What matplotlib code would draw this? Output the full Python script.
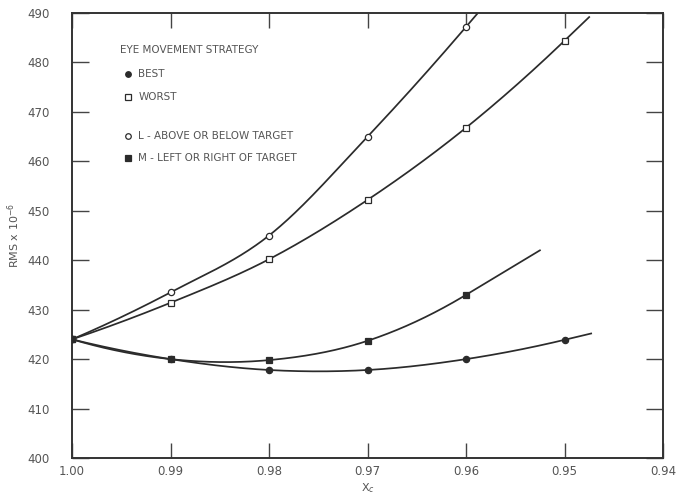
import matplotlib
matplotlib.use('Agg')
import matplotlib.pyplot as plt
import numpy as np

plt.rcParams['font.family'] = ['Liberation Sans Narrow', 'DejaVu Sans']

# значения
x_l_worst = [1.00, 0.99, 0.98, 0.97, 0.96]
rms_l_worst = [424.0, 433.5, 445.0, 465.0, 487.2]
x_m_worst = [1.00, 0.99, 0.98, 0.97, 0.96, 0.95]
rms_m_worst = [424.0, 431.4, 440.2, 452.2, 466.8, 484.4]
x_m_best = [1.00, 0.99, 0.98, 0.97, 0.96]
rms_m_best = [424.0, 420.0, 419.8, 423.7, 433.0]
x_l_best = [1.00, 0.99, 0.98, 0.97, 0.96, 0.95]
rms_l_best = [424.0, 420.0, 417.8, 417.8, 420.0, 423.9]

# где кончаются кривые (по X)
curve_end = {'l_worst': 0.958, 'm_worst': 0.9475, 'm_best': 0.9525, 'l_best': 0.9473}

x_ticks = [1.00, 0.99, 0.98, 0.97, 0.96, 0.95, 0.94]
x_tick_labels = ['1.00', '0.99', '0.98', '0.97', '0.96', '0.95', '0.94']
y_ticks = [400, 410, 420, 430, 440, 450, 460, 470, 480, 490]

legend_title = 'EYE MOVEMENT STRATEGY'
legend_rows = [
    ('o', 'k', 'BEST'),
    ('s', 'none', 'WORST'),
    ('o', 'none', 'L - ABOVE OR BELOW TARGET'),
    ('s', 'k', 'M - LEFT OR RIGHT OF TARGET'),
]

line_color = '#2b2b2b'
text_color = '#555555'


def smooth_curve(xs, ys, end, n=400):
    # кривая Катмулла-Рома через точки (шаг по X равномерный)
    y = np.asarray(ys, float)
    k = len(y)
    step = xs[0] - xs[1]
    m = np.zeros(k)
    m[1:-1] = (y[2:] - y[:-2]) / 2
    m[0] = (-3 * y[0] + 4 * y[1] - y[2]) / 2
    m[-1] = (3 * y[-1] - 4 * y[-2] + y[-3]) / 2
    u = np.linspace(0, (xs[0] - end) / step, n)
    yy = np.empty_like(u)
    for j, uu in enumerate(u):
        i = min(int(uu), k - 2)
        t = uu - i
        if t > 1:
            # продолжение за последней точкой по касательной
            yy[j] = y[-1] + m[-1] * (uu - (k - 1))
            continue
        h00 = 2 * t ** 3 - 3 * t ** 2 + 1
        h10 = t ** 3 - 2 * t ** 2 + t
        h01 = -2 * t ** 3 + 3 * t ** 2
        h11 = t ** 3 - t ** 2
        yy[j] = h00 * y[i] + h10 * m[i] + h01 * y[i + 1] + h11 * m[i + 1]
    return xs[0] - u * step, yy


fig = plt.figure(figsize=(6.77, 4.98), dpi=100)
ax = fig.add_axes([0.1064, 0.0803, 0.8730, 0.8936])


def draw_series(xs, ys, end, marker, filled):
    xx, yy = smooth_curve(xs, ys, end)
    ax.plot(xx, yy, color=line_color, lw=1.25, zorder=2)
    ax.plot(xs, ys, linestyle='none', marker=marker, markersize=4.5,
            markerfacecolor=line_color if filled else 'white',
            markeredgecolor=line_color, markeredgewidth=0.9, zorder=3)


draw_series(x_l_worst, rms_l_worst, curve_end['l_worst'], 'o', False)
draw_series(x_m_worst, rms_m_worst, curve_end['m_worst'], 's', False)
draw_series(x_m_best, rms_m_best, curve_end['m_best'], 's', True)
draw_series(x_l_best, rms_l_best, curve_end['l_best'], 'o', True)

ax.set_xlim(1.00, 0.94)
ax.set_ylim(400, 490)
ax.set_xticks(x_ticks)
ax.set_xticklabels(x_tick_labels)
ax.set_yticks(y_ticks)

for s in ax.spines.values():
    s.set_linewidth(1.4)
    s.set_color('#333333')

ax.tick_params(axis='x', direction='in', length=11, width=1, top=True,
               labelsize=8.5, labelcolor=text_color, pad=5, color='#444444')
ax.tick_params(axis='y', direction='in', length=12, width=1, right=True,
               labelsize=8.5, labelcolor=text_color, pad=16, color='#444444')

ax.set_ylabel('RMS x 10$^{-6}$', fontsize=8, color=text_color)
ax.yaxis.set_label_coords(-0.085, 0.5)
ax.set_xlabel('X$_c$', fontsize=8, color=text_color, labelpad=2)

# легенда вручную
ax.text(0.081, 0.917, legend_title, transform=ax.transAxes, fontsize=7.5,
        color=text_color, va='center')
legend_y = [0.863, 0.811, 0.724, 0.674]
for (mk, face, label), yy in zip(legend_rows, legend_y):
    ax.plot([0.095], [yy], transform=ax.transAxes, marker=mk, markersize=4,
            markerfacecolor=line_color if face == 'k' else 'white',
            markeredgecolor=line_color, markeredgewidth=0.9, linestyle='none')
    ax.text(0.112, yy, label, transform=ax.transAxes, fontsize=7.5,
            color=text_color, va='center')

plt.savefig('out.png', dpi=100)
